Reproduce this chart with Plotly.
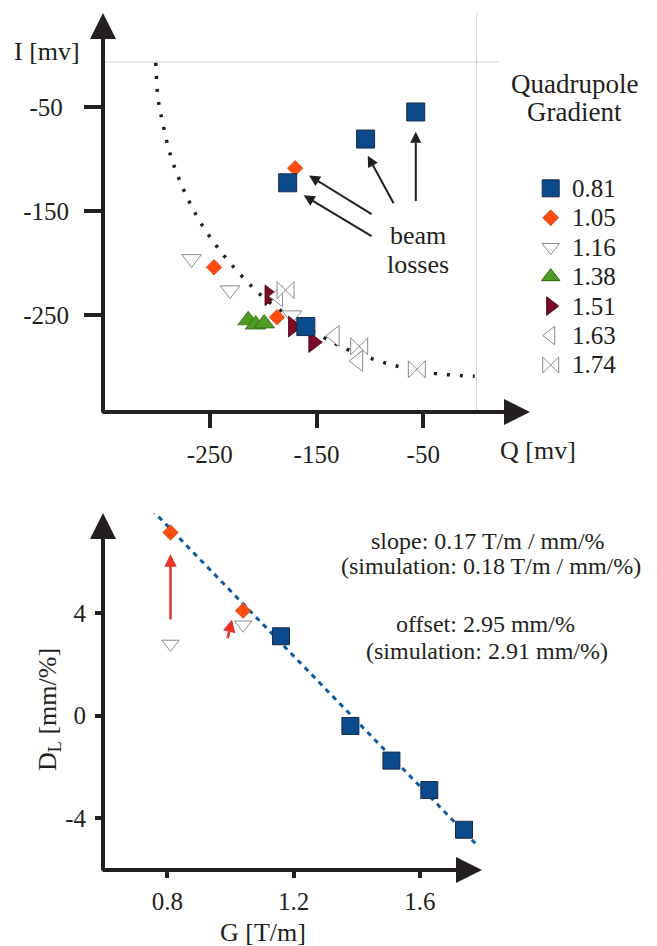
import plotly.graph_objects as go

W, H = 657, 946
FONT = "Liberation Serif, Times New Roman, serif"
INK = "#231f20"

# ---------------- top chart data: I vs Q for each quadrupole gradient ----------------
series_names = ["0.81", "1.05", "1.16", "1.38", "1.51", "1.63", "1.74"]
q_081 = [-57, -104, -177, -160]
i_081 = [-55, -81, -123, -261]
q_105 = [-170, -246, -187]
i_105 = [-109, -204, -252]
q_116 = [-267, -231, -173]
i_116 = [-196, -226, -250]
q_138 = [-214, -207, -199]
i_138 = [-255, -259, -258]
q_151 = [-194, -172, -153]
i_151 = [-231, -261, -276]
q_163 = [-186, -133, -111]
i_163 = [-232, -270, -294]
q_174 = [-179, -110, -56]
i_174 = [-226, -280, -302]

# dotted guide curve
curve_q = [-300.6, -298.4, -294.3, -286.8, -275, -260, -241.3, -219.4, -195.4, -150, -119.5, -86, -43.9, -1.8]
curve_i = [-7.8, -41.9, -64.4, -96.4, -128.4, -158.8, -186.9, -213.2, -236.6, -267.6, -283.6, -295.8, -305.4, -308.6]

# beam-loss arrows (tail Q, tail I, head Q, head I)
loss_arrows = [
    (-57, -142, -57, -74),
    (-77, -144, -102, -97),
    (-97, -154, -157, -116),
    (-97, -175, -162, -135),
]

top_ticks = [-250, -150, -50]

# ---------------- bottom chart data: D_L vs G ----------------
g_sq = [1.16, 1.38, 1.51, 1.63, 1.74]
d_sq = [3.1, -0.4, -1.75, -2.9, -4.45]
g_dia = [0.81, 1.04]
d_dia = [7.15, 4.1]
g_tri = [0.81, 1.04]
d_tri = [2.8, 3.55]
fit_g = [0.75, 1.785]
fit_d = [8.05, -5.1]
red_arrows = [
    (0.81, 3.7, 0.81, 6.3),
    (0.99, 2.97, 1.005, 3.75),
]
bot_xticks = [0.8, 1.2, 1.6]
bot_yticks = [-4, 0, 4]

# ---------------- styles ----------------
styles = {
    "0.81": dict(symbol="square", color="#0b4a8b", line=dict(color="#1b2a4a", width=1), size=18),
    "1.05": dict(symbol="diamond", color="#ff4d12", line=dict(color="#c8400f", width=0.6), size=12),
    "1.16": dict(symbol="triangle-down", color="white", line=dict(color="#8a8a8a", width=1), size=17),
    "1.38": dict(symbol="triangle-up", color="#4e9a22", line=dict(color="#2f6a12", width=0.8), size=18),
    "1.51": dict(symbol="triangle-right", color="#7b0a27", line=dict(color="#4a0015", width=0.8), size=18),
    "1.63": dict(symbol="triangle-left", color="white", line=dict(color="#8a8a8a", width=1), size=18),
    "1.74": dict(symbol="bowtie", color="white", line=dict(color="#8a8a8a", width=1), size=17),
}
legend_sizes = {"0.81": 17, "1.05": 12, "1.16": 15, "1.38": 16, "1.51": 16, "1.63": 16, "1.74": 16}
top_data = {
    "0.81": (q_081, i_081), "1.05": (q_105, i_105), "1.16": (q_116, i_116),
    "1.38": (q_138, i_138), "1.51": (q_151, i_151), "1.63": (q_163, i_163),
    "1.74": (q_174, i_174),
}


def py(p):
    return 1 - p / H


def px(p):
    return p / W


fig = go.Figure()

# guide curve
fig.add_trace(go.Scatter(x=curve_q, y=curve_i, mode="lines", line=dict(color=INK, width=3.5, dash="3px,10px", shape="spline"),
                         xaxis="x", yaxis="y", showlegend=False, hoverinfo="skip"))

draw_order = ["1.16", "1.38", "1.05", "1.51", "1.63", "1.74", "0.81"]
for name in draw_order:
    q, i = top_data[name]
    fig.add_trace(go.Scatter(x=q, y=i, mode="markers", marker=dict(styles[name], opacity=1), name=name,
                             xaxis="x", yaxis="y", showlegend=False, cliponaxis=False))

# bottom
fig.add_trace(go.Scatter(x=fit_g, y=fit_d, mode="lines", line=dict(color="#0d5aa0", width=3, dash="5px,5px"),
                         xaxis="x2", yaxis="y2", showlegend=False))
fig.add_trace(go.Scatter(x=g_tri, y=d_tri, mode="markers", marker=dict(styles["1.16"], size=15, opacity=1), xaxis="x2", yaxis="y2", showlegend=False))
fig.add_trace(go.Scatter(x=g_dia, y=d_dia, mode="markers", marker=dict(styles["1.05"], opacity=1), xaxis="x2", yaxis="y2", showlegend=False))
fig.add_trace(go.Scatter(x=g_sq, y=d_sq, mode="markers", marker=dict(styles["0.81"], size=17, opacity=1), xaxis="x2", yaxis="y2", showlegend=False))

# legend markers (own hidden axes)
fig.add_trace(go.Scatter(
    x=[0] * len(series_names), y=list(range(len(series_names))), mode="markers",
    marker=dict(symbol=[styles[n]["symbol"] for n in series_names],
                color=[styles[n]["color"] for n in series_names],
                size=[legend_sizes[n] for n in series_names], opacity=1,
                line=dict(color=[styles[n]["line"]["color"] for n in series_names], width=1)),
    xaxis="x3", yaxis="y3", showlegend=False, hoverinfo="skip", cliponaxis=False))

tickfont = dict(family=FONT, size=25, color=INK)
common = dict(showgrid=False, zeroline=False, showline=False, ticks="outside", tickcolor=INK, tickfont=tickfont)

layout = dict(
    width=W, height=H, margin=dict(l=0, r=0, t=0, b=0),
    paper_bgcolor="white", plot_bgcolor="rgba(0,0,0,0)",
    font=dict(family=FONT, color=INK),
    xaxis=dict(common, domain=[px(103), px(530)], range=[-350, 50], anchor="y",
               tickvals=top_ticks, ticktext=[str(v) for v in top_ticks], ticklen=15, tickwidth=4, ticklabelstandoff=5),
    yaxis=dict(common, domain=[py(412), py(13)], range=[-343, 40], anchor="x",
               tickvals=top_ticks, ticktext=["-250", "-150", "-50\u2008"], ticklen=18, tickwidth=4, ticklabelstandoff=10),
    xaxis2=dict(common, domain=[px(103), px(482)], range=[0.596, 1.797], anchor="y2",
                tickvals=bot_xticks, ticktext=[f"{v:.1f}" for v in bot_xticks], ticklen=7, tickwidth=4, ticklabelstandoff=2),
    yaxis2=dict(common, domain=[py(870), py(513)], range=[-6.02, 7.91], anchor="x2",
                tickvals=bot_yticks, ticktext=[str(v) for v in bot_yticks], ticklen=7, tickwidth=4, ticklabelstandoff=4),
    xaxis3=dict(domain=[px(545.7), px(555.7)], range=[-1, 1], visible=False, anchor="y3", fixedrange=True),
    yaxis3=dict(domain=[py(379.7), py(173.6)], range=[6.5, -0.5], visible=False, anchor="x3", fixedrange=True),
    showlegend=False,
)
fig.update_layout(layout)

# gray frame lines (top chart)
fig.add_shape(type="line", xref="x", yref="y", x0=-350, x1=21, y0=-7, y1=-7, line=dict(color="#d4d4d4", width=1), layer="below")
fig.add_shape(type="line", xref="x", yref="y", x0=0, x1=0, y0=-343, y1=48, line=dict(color="#d4d4d4", width=1), layer="below")

ann = []


def arrow(x0, y0, x1, y1, xr, yr, color, width, size, head=2):
    return dict(x=x1, y=y1, ax=x0, ay=y0, xref=xr, yref=yr, axref=xr, ayref=yr, text="",
                showarrow=True, arrowhead=head, arrowsize=size, arrowwidth=width, arrowcolor=color,
                standoff=0, startstandoff=0)


def label(text, xp, yp, size=25, xanchor="center", angle=0):
    return dict(text=text, x=px(xp), y=py(yp), xref="paper", yref="paper", showarrow=False,
                xanchor=xanchor, yanchor="middle", textangle=angle,
                font=dict(family=FONT, size=size, color=INK))


# axis arrows
ann.append(arrow(-350, -345, -350, 40, "x", "y", INK, 4, 1.3))
ann.append(arrow(-352, -343, 50, -343, "x", "y", INK, 4, 1.3))
ann.append(arrow(0.596, -6.1, 0.596, 7.91, "x2", "y2", INK, 4, 1.3))
ann.append(arrow(0.590, -6.02, 1.797, -6.02, "x2", "y2", INK, 4, 1.3))

for (a, b, c, d) in loss_arrows:
    ann.append(arrow(a, b, c, d, "x", "y", INK, 2, 1.1))
for (a, b, c, d) in red_arrows:
    ann.append(arrow(a, b, c, d, "x2", "y2", "#e8322c", 2.5, 1.0))

# texts
ann.append(label("I [mv]", 47, 52, 26))
ann.append(label("Q [mv]", 498, 451, 26, xanchor="left"))
ann.append(label("G [T/m]", 263, 932, 26))
ann.append(label("D<sub>L</sub> [mm/%]", 49, 710, 26, angle=-90))
ann.append(label("beam", 418, 235, 26))
ann.append(label("losses", 418, 265, 26))
ann.append(label("Quadrupole", 574, 84, 27))
ann.append(label("Gradient", 574, 112, 27))
for k, n in enumerate(series_names):
    ann.append(dict(text=n, x=px(570), y=k, xref="paper", yref="y3", showarrow=False, xanchor="left",
                    yanchor="middle", font=dict(family=FONT, size=25, color=INK)))
ann.append(label("slope: 0.17 T/m / mm/%", 607, 541, 24, xanchor="right"))
ann.append(label("(simulation: 0.18 T/m / mm/%)", 643, 566, 24, xanchor="right"))
ann.append(label("offset: 2.95 mm/%", 577, 624, 24, xanchor="right"))
ann.append(label("(simulation: 2.91 mm/%)", 610, 651, 24, xanchor="right"))

fig.update_layout(annotations=ann)
fig.write_html("out.html", config={"displayModeBar": False, "staticPlot": True},
               post_script="document.body.style.margin='0';document.body.style.overflow='hidden';")
